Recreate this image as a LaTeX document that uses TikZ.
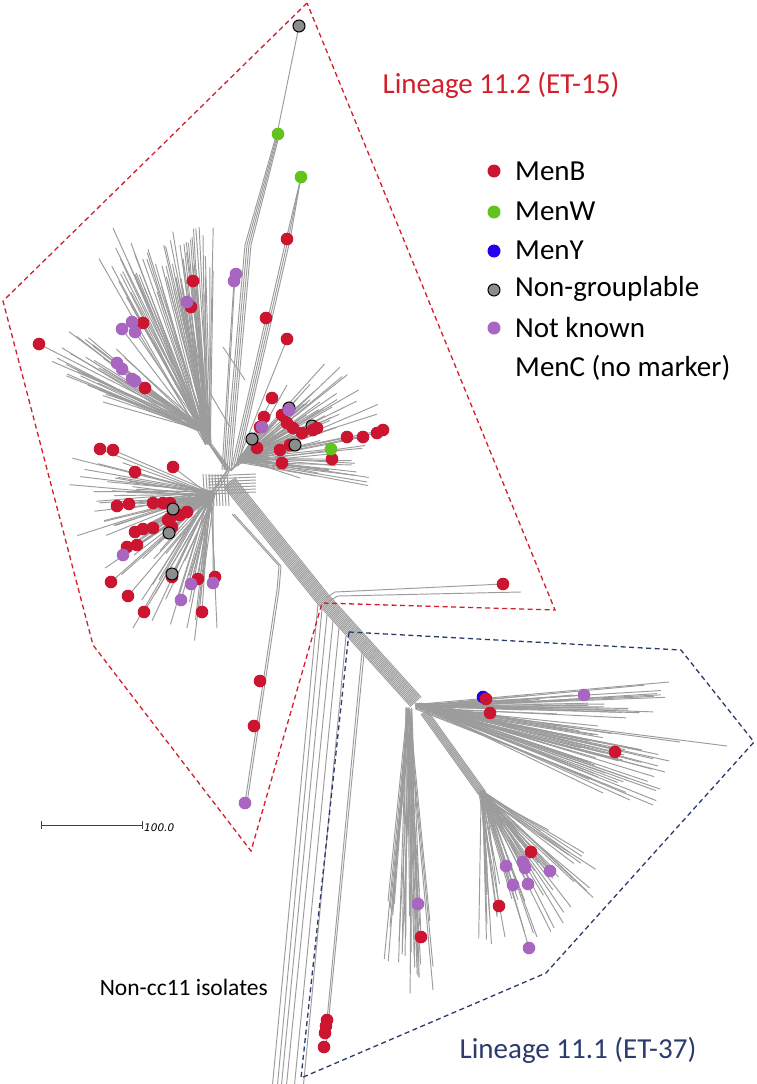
\documentclass[tikz,border=0pt]{standalone}
\usepackage{fontspec}
\setmainfont{Carlito}
\newfontfamily\barfont{DejaVu Sans}
\usetikzlibrary{calc}
\definecolor{menb}    {HTML}{CC1530}
\definecolor{menw}    {HTML}{62C21E}
\definecolor{meny}    {HTML}{2200EE}
\definecolor{nongrp}  {HTML}{8C8C8C}
\definecolor{unknown} {HTML}{A966C0}
\definecolor{branch}  {HTML}{9C9C9C}
\definecolor{redline} {HTML}{D21F2C}
\definecolor{blueline}{HTML}{2C3B6E}
\tikzset{
  % --- tree
  br/.style      = {draw=branch, line width=0.95pt},
  % --- hulls
  hull/.style    = {dashed, dash pattern=on 5pt off 3.5pt, line width=1.3pt},
  hullB/.style   = {hull, draw=redline},
  hullY/.style   = {hull, draw=blueline},
  % --- text
  big/.style     = {font=\fontsize{29}{34}\selectfont, inner sep=0pt},
  lgtext/.style  = {big, anchor=west},
}
% random fan: base, angle from, angle to, length from, length to, count
\newcommand\fan[6]{%
  \foreach \k in {1,...,#6}{%
    \pgfmathsetmacro\fa{#2+rnd*(#3-#2)}%
    \pgfmathsetmacro\fr{#4+rnd*(#5-#4)}%
    \draw[br] (#1) ++(rand*3,rand*3) -- ++(\fa:\fr);
  }}
% branches from a base to listed tips
\newcommand\tips[2]{%
  \foreach \tx/\ty in {#2}{%
    \draw[br] (#1) ++(rand*3,rand*3) -- (\tx,\ty);
  }}
% isolate markers
\newcommand\iso[2]{\foreach \tx/\ty in {#2}{\fill[#1] (\tx,\ty) circle (6.3pt);}}

\begin{document}
\begin{tikzpicture}[x=1pt,y=-1pt]
  \useasboundingbox[fill=white] (0,0) rectangle (757,1084);
  \pgfmathsetseed{11}

  % branch points
  \coordinate (hubA) at (228,470);
  \coordinate (nw)   at (208,442);
  \coordinate (west) at (199,428);
  \coordinate (east) at (241,460);
  \coordinate (sw)   at (212,494);
  \coordinate (hubB) at (418,706);
  \coordinate (down) at (409,710);
  \coordinate (hubC) at (482,793);

  % lineage 11.2 centre
  \tips{hubA}{208/442,206/440,209/444,199/428,200/430,198/426,241/460,242/458,243/462,212/494,211/492,214/496,210/497}
  \foreach \o in {0,3,...,24} \draw[br] (203+\o,474) -- (205+\o,506);
  \foreach \o in {0,3,...,18} \draw[br] (208,476+\o) -- (256,474+\o);

  % upper-left fan
  \fan{nw}{240}{272}{150}{215}{60}
  \fan{west}{198}{224}{100}{165}{28}
  \tips{nw}{193/281,191/307,187/302,143/323,113/228,131/243,203/235,180/245}
  \tips{west}{39/344,122/329,132/322,135/332,117/363,122/369,132/379,135/381,145/388,57/358,67/374,103/402}

  % long upward branches
  \foreach \o in {0,2,4,6}
    \draw[br] (225+\o,470) -- (245+\o,245) -- (276+\o*0.5,136);
  \draw[br] (277,134) -- (299,26);
  \draw[br] (224,470) -- (235,276);
  \draw[br] (222,470) -- (234,281);
  \foreach \o in {0,2,4}
    \draw[br] (234+\o,466) -- (286+\o,240) -- (301,177);
  \draw[br] (232,466) -- (266,318);
  \draw[br] (236,466) -- (287,339);
  \draw[br] (223,347) -- (245,380);
  \draw[br] (210,393) -- (230,427);

  % right fan of 11.2
  \fan{east}{300}{355}{40}{150}{40}
  \fan{east}{0}{12}{70}{128}{12}
  \tips{east}{264/417,260/427,257/448,280/450,282/463,282/415,287/423,293/428,302/433,313/430,317/428,290/445,347/437,363/437,377/433,383/430,332/459,272/398,289/408,262/427,252/439,295/445,331/449,320/402,287/385,367/482,300/478}

  % lower-left fan of 11.2
  \fan{sw}{95}{200}{70}{145}{65}
  \tips{sw}{100/449,113/450,173/467,135/472,117/506,129/504,153/503,163/503,170/503,170/518,180/515,187/512,168/520,172/527,135/532,143/529,153/528,127/547,137/545,123/555,111/582,128/596,144/612,172/577,198/579,215/577,202/612,191/584,213/583,181/600,173/509,169/533,172/574,133/628,187/628,217/628,115/478}

  % trunk
  \foreach \o in {-7,-5.6,...,7}
    \draw[br] (229+0.79*\o,482-0.62*\o) -- (322+0.79*\o,598-0.62*\o) -- (416+0.74*\o,702-0.67*\o);
  \foreach \o in {0,2}
    \draw[br] (232+\o,514) -- (279+\o,566) -- (277+\o,590) -- (245+\o,803);
  \draw[br] (326,598) -- (335,592) -- (503,584);
  \draw[br] (329,601) -- (338,596) -- (521,592);

  % non-cc11 isolates
  \foreach \sx/\sy/\ex in {318/604/272,322/609/277,327/615/281,333/621/286,339/628/294,346/636/303}
    \draw[br] (\sx,\sy) -- (\ex,1090);
  \draw[br] (362,652) -- (327,1020);
  \draw[br] (364,654) -- (326,1047);

  % lineage 11.1
  \fan{hubB}{354}{363}{100}{250}{25}
  \fan{hubB}{8}{24}{150}{260}{42}
  \tips{hubB}{669/682,584/695,486/699,490/713,573/695,589/708,598/726,680/742,727/746,615/752,665/772,658/766,653/805,630/800,603/793,628/778,642/750}
  \fan{down}{84}{96}{180}{285}{32}
  \tips{down}{418/904,421/937,390/927,433/990}
  \foreach \o in {-3,...,3}
    \draw[br] (424+\o,712-0.7*\o) -- (482+\o,793-0.7*\o);
  \fan{hubC}{28}{92}{60}{155}{48}
  \tips{hubC}{584/853,569/855,486/887,505/937,537/937,553/890,531/852,506/866,523/862,525/868,550/871,513/885,528/884,499/906,529/948}

  % lineage hulls
  \draw[hullB] (307,3) -- (3,301) -- (93,645) -- (251,851) -- (322,603) -- (555,610) -- cycle;
  \draw[hullY] (349,632) -- (681,650) -- (754,742) -- (546,973) -- (301,1078) -- cycle;

  % isolates
  \iso{meny}{483/697}
  \foreach \tx/\ty in {289/408,312/426}
    \draw[fill=nongrp, line width=1pt] (\tx,\ty) circle (6pt);
  \iso{menb}{287/239,193/281,191/307,266/318,287/339,143/323,39/344,145/388,272/398,
    264/417,260/427,257/448,280/450,282/463,282/415,287/423,293/428,302/433,313/430,317/428,290/445,347/437,363/437,377/433,383/430,332/459,
    100/449,113/450,173/467,135/472,117/506,129/504,153/503,163/503,170/503,170/518,180/515,187/512,168/520,172/527,135/532,143/529,153/528,127/547,137/545,111/582,128/596,144/612,172/577,198/579,215/577,202/612,
    503/584,260/681,254/726,
    486/699,490/713,615/752,531/852,499/906,421/937,327/1020,326/1026,325/1033,324/1047}
  \foreach \tx/\ty in {299/26,252/439,295/445,173/509,169/533,172/574}
    \draw[fill=nongrp, line width=1pt] (\tx,\ty) circle (6pt);
  \iso{unknown}{236/274,234/281,187/302,122/329,132/322,135/332,117/363,122/369,132/379,135/381,289/410,262/427,123/555,191/584,213/583,181/600,245/803,
    584/695,506/866,523/862,525/868,550/871,513/885,528/884,418/904,529/948}
  \iso{menw}{278/134,301/177,331/449}

  % scale bar
  \coordinate (sbL) at (41,825);
  \coordinate (sbR) at (142,825);
  \draw[line width=1pt, black!75] (sbL) -- (sbR);
  \draw[line width=1pt, black!75] ($(sbL)+(0,-4)$) -- ($(sbL)+(0,4)$);
  \draw[line width=1pt, black!75] ($(sbR)+(0,-4)$) -- ($(sbR)+(0,4)$);
  \node[anchor=west, inner sep=1pt, font=\barfont\itshape\fontsize{10.5}{12}\selectfont] (sbT) at (143,828) {100.0};

  % labels
  \node[big, text=redline] (t112) at (501,85) {Lineage 11.2 (ET-15)};
  \node[big, text=blueline] (t111) at (578,1050) {Lineage 11.1 (ET-37)};
  \node[font=\fontsize{23.5}{28}\selectfont, anchor=east, inner sep=0pt] (noncc) at (268,987) {Non-cc11 isolates};

  % legend
  \fill[menb] (494,171) circle (6.5pt);
  \fill[menw] (494,212) circle (6.5pt);
  \fill[meny] (494,251) circle (6.5pt);
  \draw[fill=nongrp, line width=1pt] (494,290) circle (6pt);
  \fill[unknown] (494,328) circle (6.5pt);
  \node[lgtext] (lgB) at (515,171) {MenB};
  \node[lgtext] (lgW) at (515,211) {MenW};
  \node[lgtext] (lgY) at (515,250) {MenY};
  \node[lgtext] (lgN) at (515,289) {Non-grouplable};
  \node[lgtext] (lgK) at (515,328) {Not known};
  \node[lgtext] (lgC) at (515,368) {MenC (no marker)};
\end{tikzpicture}
\end{document}
